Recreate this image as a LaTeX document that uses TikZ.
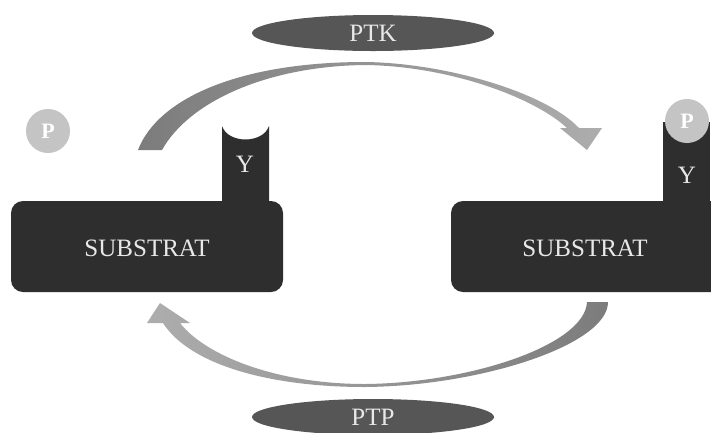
\documentclass[tikz,border=0pt]{standalone}
\usepackage{fontspec}
\setmainfont{Liberation Serif}
\usetikzlibrary{shapes.geometric}
\definecolor{boxdark}{HTML}{2E2E2E}
\definecolor{enz}{HTML}{565656}
\definecolor{arrdark}{HTML}{7C7C7C}
\definecolor{arrlight}{HTML}{ADADAD}
\definecolor{pcol}{HTML}{C4C4C4}
\definecolor{txtlight}{HTML}{E8E8E8}
\begin{document}
\begin{tikzpicture}[x=1pt,y=-1pt,
  lbl/.style={text=txtlight,font=\fontsize{25}{28}\selectfont,inner sep=0pt},
  enzyme/.style={ellipse,fill=enz,minimum width=242pt,minimum height=36pt,inner sep=0pt,text=txtlight,font=\fontsize{25}{28}\selectfont},
  phos/.style={circle,fill=pcol,minimum size=44pt,inner sep=0pt,text=white,font=\fontsize{22}{24}\selectfont\bfseries},
  substrate/.style={fill=boxdark}]
\clip (0,0) rectangle (711,432);
\fill[white] (0,0) rectangle (711,432);

% enzymes
\node[enzyme] (ptk) at (373,33) {PTK};
\node[enzyme] (ptp) at (373,417) {PTP};

% top arrow (PTK)
\shade[left color=arrdark, right color=arrlight]
  (138,150) .. controls (158,98) and (240,62) .. (365,62)
  .. controls (445,63) and (545,92) .. (579,128)
  -- (602,128) -- (587,150) -- (560,128) -- (567,128)
  .. controls (535,98) and (450,66) .. (365,65)
  .. controls (270,66) and (190,100) .. (162,150) -- cycle;

% bottom arrow (PTP)
\shade[left color=arrlight, right color=arrdark]
  (587,302) -- (608,302)
  .. controls (608,345) and (480,386) .. (365,387)
  .. controls (270,387) and (190,365) .. (163,323)
  -- (147,323) -- (160,303) -- (190,323) -- (180,323)
  .. controls (205,355) and (275,384) .. (365,384)
  .. controls (470,383) and (585,345) .. (587,302) -- cycle;

% left substrate
\fill[substrate, rounded corners=12pt] (11,201) rectangle (283,292);
\fill[substrate] (222,205) -- (222,126) .. controls (228,144) and (263,144) .. (269,126) -- (269,205) -- cycle;
\node[lbl] (sub1) at (147,248) {SUBSTRAT};
\node[lbl] (y1) at (245,164) {Y};

% right substrate
\fill[substrate, rounded corners=12pt] (451,201) rectangle (725,292);
\fill[substrate] (663,205) -- (663,122) -- (710,122) -- (710,205) -- cycle;
\node[lbl] (sub2) at (585,248) {SUBSTRAT};
\node[lbl] (y2) at (687,175) {Y};

% phosphates
\node[phos] (p1) at (48,131) {P};
\node[phos] (p2) at (687,121) {P};
\end{tikzpicture}
\end{document}
